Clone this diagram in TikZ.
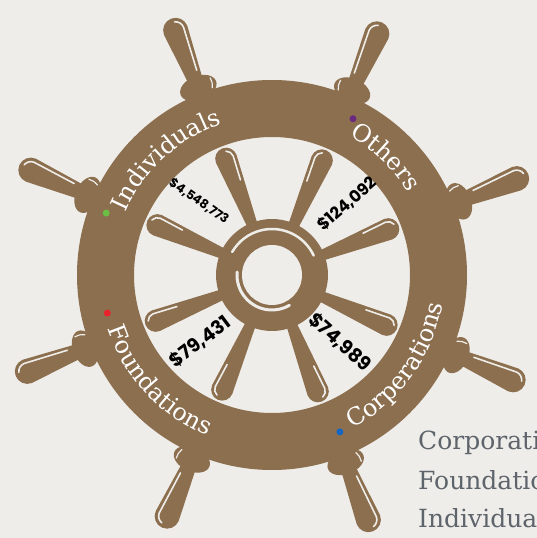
\documentclass[tikz,border=0pt]{standalone}
\usepackage{fontspec}
\setmainfont{DejaVu Serif}
\newfontfamily\amountfont{Poppins}
\usetikzlibrary{decorations.text}
\definecolor{wheel}{HTML}{8C6F4F}
\definecolor{paper}{HTML}{EFEDE9}
\definecolor{legendgray}{HTML}{5E646C}
\definecolor{indiv}{HTML}{6CBE45}
\definecolor{others}{HTML}{6B2A80}
\definecolor{found}{HTML}{E8232B}
\definecolor{corp}{HTML}{1466C2}
\newcommand\ringfont{\fontsize{24}{29}\selectfont}

\begin{document}
\begin{tikzpicture}[x=1pt,y=1pt,
    shine/.style={draw=paper,line width=1.6pt,line cap=round},
    amount/.style={font=\amountfont\bfseries,text=black,inner sep=0pt},
    dot/.style={circle,inner sep=0pt,minimum size=7pt},
    legend/.style={font=\fontsize{25}{30}\selectfont,text=legendgray,anchor=base west,inner sep=0pt},
    ringtext/.style={decorate,decoration={text along path,text align=center,text color=white,text={|\ringfont|#1}}}]
\fill[paper] (0,0) rectangle (537,538);
\useasboundingbox (0,0) rectangle (537,538);
\coordinate (C) at (272,263);
\begin{scope}[shift={(C)}]
  % handles and spokes
  \foreach \a in {21.5,66.5,...,336.5}{
    \pgfmathsetmacro\side{cos(\a)>0 ? 1 : -1}
    \begin{scope}[rotate=\a]
      \fill[wheel] (198,-6.5) -- (263,-12.5) arc[start angle=-90,end angle=90,radius=12.5] -- (198,6.5) -- cycle;
      \fill[wheel] (201,0) ellipse[x radius=12,y radius=19];
      \fill[wheel] (50,-5) -- (125,-11) arc[start angle=-90,end angle=90,radius=11] -- (50,5) -- cycle;
      \begin{scope}[yscale=\side]
        \draw[shine] (218,5) -- (263,8.5) arc[start angle=90,end angle=15,radius=8.5];
        \draw[shine] (100,5.5) -- (125,7.5) arc[start angle=90,end angle=20,radius=7.5];
        \draw[shine,line width=1.2pt] (196,13) arc[start angle=120,end angle=80,radius=15];
      \end{scope}
    \end{scope}}
  % rim and hub
  \fill[wheel,even odd rule] (0,0) circle[radius=195] circle[radius=138];
  \fill[wheel] (0,0) circle[radius=56];
  \fill[paper] (0,0) circle[radius=30];
  \draw[shine,line width=2.5pt] (150:46) arc[start angle=150,end angle=25,radius=46];
  \draw[shine,line width=3pt] (175:35) arc[start angle=175,end angle=300,radius=35];
  % labels on the rim
  \path[ringtext=Individuals] (172.5:159) arc[start angle=172.5,end angle=92.5,radius=159];
  \path[ringtext=Others] (86:159) arc[start angle=86,end angle=6,radius=159];
  \path[ringtext=Foundations] (183:173) arc[start angle=183,end angle=263,radius=173];
  \path[ringtext=Corperations] (284:173) arc[start angle=284,end angle=364,radius=173];
  \node[dot,fill=indiv] (dotI) at (159.5:177) {};
  \node[dot,fill=others] (dotO) at (62.6:176) {};
  \node[dot,fill=found] (dotF) at (193:169) {};
  \node[dot,fill=corp] (dotC) at (293.4:171) {};
\end{scope}
% amounts between the spokes
\node[amount,font=\amountfont\bfseries\fontsize{12.5}{15}\selectfont,rotate=-35] (amtI) at (199,337) {\$4,548,773};
\node[amount,font=\amountfont\bfseries\fontsize{16.5}{20}\selectfont,rotate=41] (amtO) at (347,334) {\$124,092};
\node[amount,font=\amountfont\bfseries\fontsize{19}{23}\selectfont,rotate=37] (amtF) at (200,196) {\$79,431};
\node[amount,font=\amountfont\bfseries\fontsize{19}{23}\selectfont,rotate=-42] (amtC) at (340,196) {\$74,989};
% legend
\node[legend] (legC) at (418,88) {Corporati};
\node[legend] (legF) at (418,48) {Foundatio};
\node[legend] (legI) at (418,10) {Individua};
\end{tikzpicture}
\end{document}
